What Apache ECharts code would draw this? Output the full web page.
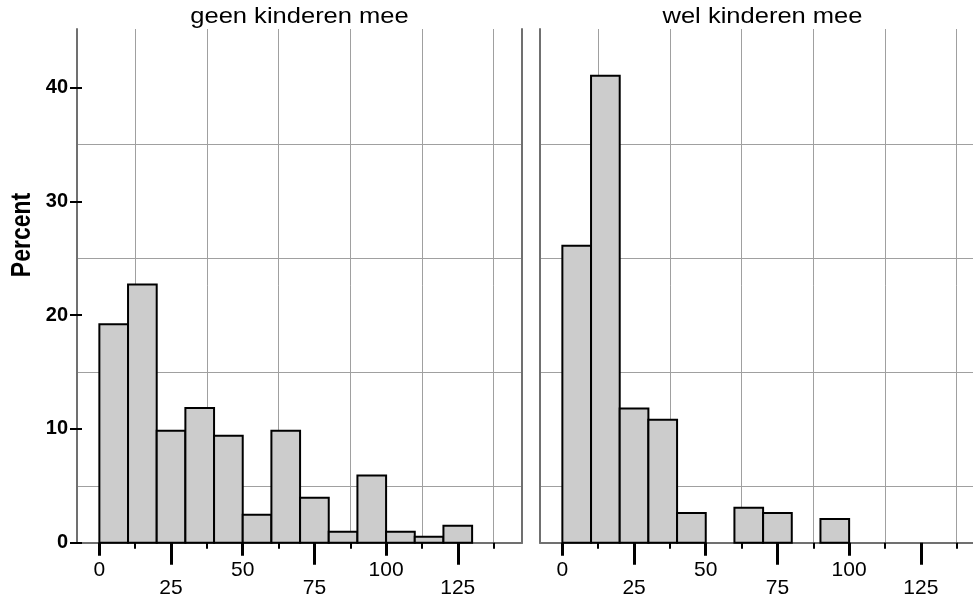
<!DOCTYPE html>
<html>
<head>
<meta charset="utf-8">
<script src="https://cdn.jsdelivr.net/npm/echarts@6/dist/echarts.min.js"></script>
<style>html,body{margin:0;padding:0;background:#fff}#c{width:973px;height:599px}</style>
</head>
<body>
<div id="c"></div>
<script>
// ---- data ----
const panelTitles = ['geen kinderen mee', 'wel kinderen mee'];
const yTitle = 'Percent';
const binStarts = [0, 10, 20, 30, 40, 50, 60, 70, 80, 90, 100, 110, 120];
const binWidth = 10;
const geenValues = [19.2, 22.7, 9.85, 11.85, 9.4, 2.45, 9.85, 3.95, 0.97, 5.9, 0.97, 0.53, 1.5];
const welValues = [26.1, 41.05, 11.8, 10.8, 2.6, 0, 3.08, 2.6, 0, 2.08];
const xLabelsUpper = [0, 50, 100];
const xLabelsLower = [25, 75, 125];
const xMinorTicks = [12.5, 37.5, 62.5, 87.5, 112.5, 137.5];
const yLabels = [0, 10, 20, 30, 40];
const yGridValues = [5, 15, 25, 35];

// ---- layout/style ----
const X_MIN = -7.8, Y_MIN = 0, Y_MAX = 45.15;
const X_MAX = [147.4, 143.2];
const FONT = 'Liberation Sans, Arial, sans-serif';
const AXIS_COLOR = '#707070';
const GRID_COLOR = '#a0a0a0';

function toBins(vals) {
  return vals.map((v, i) => [binStarts[i], binStarts[i] + binWidth, v]);
}

const grids = [
  { left: 77, top: 29, width: 445, height: 513.7 },
  { left: 540, top: 29, width: 433, height: 513.7 }
];

const xAxes = [];
const yAxes = [];
const series = [];

[0, 1].forEach(g => {
  const base = { type: 'value', gridIndex: g, min: X_MIN, max: X_MAX[g], position: 'bottom' };
  const xi = xAxes.length;
  xAxes.push(Object.assign({}, base, {
    axisLine: { show: true, onZero: false, lineStyle: { color: AXIS_COLOR, width: 2 } },
    axisTick: { show: true, customValues: xLabelsUpper, length: 13, lineStyle: { color: '#000', width: 3 } },
    axisLabel: { show: true, customValues: xLabelsUpper, margin: 17, fontSize: 21, fontFamily: FONT, color: '#000' },
    splitLine: { show: false }
  }));
  xAxes.push(Object.assign({}, base, {
    axisLine: { show: false, onZero: false },
    axisTick: { show: true, customValues: xLabelsLower, length: 22, lineStyle: { color: '#000', width: 3 } },
    axisLabel: { show: true, customValues: xLabelsLower, margin: 35, fontSize: 21, fontFamily: FONT, color: '#000' },
    splitLine: { show: false }
  }));
  xAxes.push(Object.assign({}, base, {
    axisLine: { show: false, onZero: false },
    axisTick: { show: true, customValues: xMinorTicks, length: 6, lineStyle: { color: '#000', width: 2 } },
    axisLabel: { show: false },
    splitLine: { show: true, lineStyle: { color: GRID_COLOR, width: 1 } }
  }));

  const ybase = { type: 'value', gridIndex: g, min: Y_MIN, max: Y_MAX };
  const yi = yAxes.length;
  if (g === 0) {
    yAxes.push(Object.assign({}, ybase, {
      position: 'left',
      axisLine: { show: true, onZero: false, lineStyle: { color: AXIS_COLOR, width: 2 } },
      axisTick: { show: true, customValues: yLabels, length: 7, lineStyle: { color: '#000', width: 2 } },
      axisLabel: { show: true, customValues: yLabels, margin: 9, fontSize: 20, fontWeight: 'bold', fontFamily: FONT, color: '#000' },
      splitLine: { show: false }
    }));
    yAxes.push(Object.assign({}, ybase, {
      position: 'left',
      axisLine: { show: false, onZero: false },
      axisTick: { show: true, inside: true, customValues: yLabels, length: 5, lineStyle: { color: '#000', width: 2 } },
      axisLabel: { show: false },
      splitLine: { show: false }
    }));
    yAxes.push(Object.assign({}, ybase, {
      position: 'right',
      axisLine: { show: true, onZero: false, lineStyle: { color: AXIS_COLOR, width: 2 } },
      axisTick: { show: false },
      axisLabel: { show: false },
      splitLine: { show: false }
    }));
  } else {
    yAxes.push(Object.assign({}, ybase, {
      position: 'left',
      axisLine: { show: true, onZero: false, lineStyle: { color: AXIS_COLOR, width: 2 } },
      axisTick: { show: false },
      axisLabel: { show: false },
      splitLine: { show: false }
    }));
  }
  yAxes.push(Object.assign({}, ybase, {
    position: 'left',
    axisLine: { show: false, onZero: false },
    axisTick: { show: false, customValues: yGridValues },
    axisLabel: { show: false },
    splitLine: { show: true, lineStyle: { color: GRID_COLOR, width: 1 } }
  }));

  series.push({
    type: 'custom',
    xAxisIndex: xi,
    yAxisIndex: yi,
    encode: { x: [0, 1], y: 2 },
    data: toBins(g === 0 ? geenValues : welValues),
    z: 5,
    renderItem: function (params, api) {
      const x0 = api.value(0), x1 = api.value(1), v = api.value(2);
      if (!v) return null;
      const p0 = api.coord([x0, v]);
      const p1 = api.coord([x1, 0]);
      return {
        type: 'rect',
        shape: { x: p0[0], y: p0[1], width: p1[0] - p0[0], height: p1[1] - p0[1] },
        style: { fill: '#cccccc', stroke: '#000', lineWidth: 2 }
      };
    }
  });
});

const chart = echarts.init(document.getElementById('c'), null, { renderer: 'canvas' });
chart.setOption({
  animation: false,
  backgroundColor: '#fff',
  grid: grids,
  xAxis: xAxes,
  yAxis: yAxes,
  series: series,
  graphic: [
    { type: 'text', x: 299.5, y: 17, scaleX: 1.16, style: { text: panelTitles[0], font: '22px ' + FONT, fill: '#000', align: 'center', verticalAlign: 'middle' } },
    { type: 'text', x: 762.5, y: 17, scaleX: 1.16, style: { text: panelTitles[1], font: '22px ' + FONT, fill: '#000', align: 'center', verticalAlign: 'middle' } },
    { type: 'text', x: 22, y: 235, rotation: Math.PI / 2, scaleY: 1.2, style: { text: yTitle, font: 'bold 23px ' + FONT, fill: '#000', align: 'center', verticalAlign: 'middle' } }
  ]
});
</script>
</body>
</html>
